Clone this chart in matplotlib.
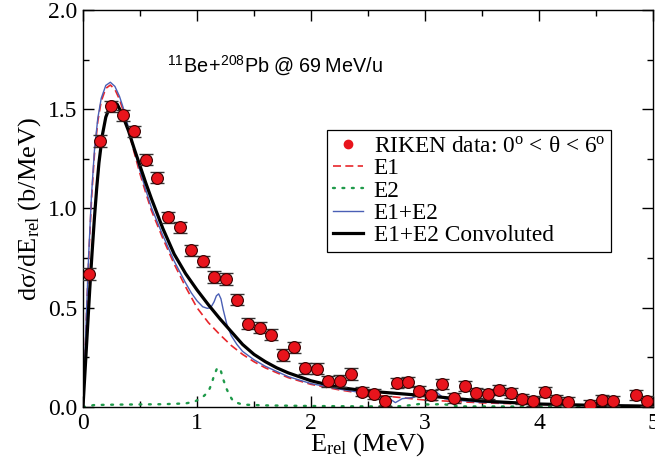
import matplotlib
matplotlib.use("Agg")
import matplotlib.pyplot as plt
from matplotlib.ticker import MultipleLocator

plt.rcParams["font.family"] = "Liberation Serif"
plt.rcParams["mathtext.fontset"] = "custom"
plt.rcParams["mathtext.rm"] = "Liberation Serif"
plt.rcParams["mathtext.it"] = "Liberation Serif:italic"
plt.rcParams["mathtext.sf"] = "Liberation Sans"

# RIKEN data points
data_x = [0.05, 0.15, 0.25, 0.35, 0.45, 0.55, 0.65, 0.75, 0.85, 0.95,
          1.05, 1.15, 1.25, 1.35, 1.45, 1.55, 1.65, 1.75, 1.85, 1.95,
          2.05, 2.15, 2.25, 2.35, 2.45, 2.55, 2.65, 2.75, 2.85, 2.95,
          3.05, 3.15, 3.25, 3.35, 3.45, 3.55, 3.65, 3.75, 3.85, 3.95,
          4.05, 4.15, 4.25, 4.45, 4.55, 4.65, 4.85, 4.95]
data_y = [0.67, 1.34, 1.515, 1.47, 1.39, 1.245, 1.155, 0.955, 0.905, 0.79,
          0.735, 0.655, 0.645, 0.54, 0.42, 0.40, 0.365, 0.262, 0.30, 0.195,
          0.193, 0.13, 0.131, 0.166, 0.078, 0.064, 0.032, 0.119, 0.128, 0.08,
          0.059, 0.116, 0.045, 0.107, 0.069, 0.067, 0.086, 0.072, 0.042, 0.03,
          0.076, 0.034, 0.027, 0.012, 0.035, 0.029, 0.06, 0.03]
data_err = [0.028] * 24 + [0.025] * 24

# E1 (dashed red)
e1_x = [0, 0.01, 0.03, 0.05, 0.075, 0.1, 0.13, 0.16, 0.2, 0.24, 0.28, 0.32,
        0.36, 0.4, 0.45, 0.5, 0.55, 0.6, 0.7, 0.8, 0.9, 1.0, 1.1, 1.2, 1.3,
        1.4, 1.5, 1.6, 1.8, 2.0, 2.25, 2.5, 3.0, 3.5, 4.0, 4.5, 5.0]
e1_y = [0, 0.12, 0.45, 0.75, 1.05, 1.27, 1.44, 1.54, 1.605, 1.622, 1.60, 1.55,
        1.48, 1.39, 1.28, 1.175, 1.08, 0.99, 0.85, 0.72, 0.605, 0.50, 0.425,
        0.365, 0.31, 0.265, 0.228, 0.197, 0.148, 0.114, 0.086, 0.064, 0.035,
        0.021, 0.013, 0.008, 0.005]

# E2 (dotted green)
e2_x = [0, 0.1, 0.3, 0.5, 0.7, 0.9, 0.98, 1.05, 1.1, 1.13, 1.15, 1.18, 1.21,
        1.23, 1.255, 1.285, 1.32, 1.4, 1.6, 2.0, 2.5, 2.8, 2.95, 3.05, 3.15,
        3.3, 4.0, 5.0]
e2_y = [0.0, 0.01, 0.012, 0.013, 0.014, 0.018, 0.027, 0.05, 0.077, 0.12, 0.16,
        0.2, 0.18, 0.14, 0.097, 0.059, 0.027, 0.012, 0.008, 0.005, 0.003,
        0.004, 0.015, 0.012, 0.015, 0.003, 0.002, 0.002]

# E1+E2 (thin blue)
sum_x = [0, 0.01, 0.03, 0.05, 0.075, 0.1, 0.13, 0.16, 0.2, 0.24, 0.28, 0.32,
         0.36, 0.4, 0.45, 0.5, 0.55, 0.6, 0.7, 0.8, 0.9, 0.95, 1.0, 1.05, 1.09,
         1.12, 1.15, 1.17, 1.19, 1.21, 1.23, 1.26, 1.3, 1.35, 1.4, 1.5, 1.6,
         1.8, 2.0, 2.25, 2.5, 2.6, 2.68, 2.74, 2.8, 2.9, 2.98, 3.05, 3.1, 3.17,
         3.25, 3.5, 4.0, 4.5, 5.0]
sum_y = [0, 0.13, 0.47, 0.77, 1.07, 1.29, 1.455, 1.555, 1.62, 1.636, 1.615,
         1.565, 1.495, 1.405, 1.295, 1.19, 1.095, 1.005, 0.865, 0.735, 0.625,
         0.575, 0.535, 0.505, 0.497, 0.50, 0.53, 0.56, 0.57, 0.545, 0.49, 0.42,
         0.36, 0.315, 0.28, 0.238, 0.205, 0.153, 0.118, 0.09, 0.067, 0.052,
         0.045, 0.022, 0.042, 0.048, 0.07, 0.085, 0.075, 0.042, 0.035, 0.024,
         0.015, 0.009, 0.006]

# E1+E2 convoluted (thick black)
conv_x = [0, 0.02, 0.04, 0.06, 0.08, 0.1, 0.12, 0.14, 0.17, 0.2, 0.24, 0.27,
          0.3, 0.34, 0.4, 0.45, 0.5, 0.55, 0.6, 0.7, 0.8, 0.9, 1.0, 1.1, 1.2,
          1.3, 1.4, 1.5, 1.6, 1.7, 1.8, 2.0, 2.25, 2.5, 3.0, 3.5, 4.0, 4.5, 5.0]
conv_y = [0.0, 0.2, 0.4, 0.6, 0.78, 0.95, 1.1, 1.23, 1.37, 1.46, 1.52, 1.535,
          1.525, 1.48, 1.39, 1.30, 1.215, 1.13, 1.05, 0.90, 0.77, 0.672, 0.59,
          0.515, 0.445, 0.38, 0.315, 0.265, 0.228, 0.197, 0.172, 0.132, 0.098,
          0.08, 0.057, 0.03, 0.015, 0.008, 0.004]

fig = plt.figure(figsize=(6.55, 4.67), dpi=100)
ax = fig.add_axes([0.1267, 0.1285, 0.8703, 0.8501])

ax.plot(e1_x, e1_y, color="#e8262b", lw=1.2, dashes=(4.8, 2.6),
        label="E1")
ax.plot(e2_x, e2_y, color="#1f9a4a", lw=1.7, dashes=(0.8, 3.2),
        dash_capstyle="round", label="E2")
ax.plot(sum_x, sum_y, color="#4a5fb5", lw=1.0, label="E1+E2")
ax.plot(conv_x, conv_y, color="black", lw=2.3, label="E1+E2 Convoluted")
ax.errorbar(data_x, data_y, yerr=data_err, fmt="none", ecolor="#333333",
            elinewidth=1.0, capsize=5, capthick=1.0, zorder=4)
ax.plot(data_x, data_y, "o", ms=8.5, mfc="#e8141c", mec="#3a0000", mew=0.8,
        zorder=5)

# legend: small dot for the data
h_dot, = ax.plot([], [], "o", ms=6, mfc="#e8141c", mec="#e8141c")
handles, labels = ax.get_legend_handles_labels()
handles = [h_dot] + handles[:4]
labels = [r"RIKEN data: 0$^{\rm o}$ < θ < 6$^{\rm o}$"] + labels[:4]
leg = ax.legend(handles, labels, loc="upper left",
                bbox_to_anchor=(0.428, 0.698), fontsize=16.8, frameon=True,
                fancybox=False, edgecolor="black", framealpha=1,
                handlelength=1.3, handletextpad=0.45, labelspacing=0.04,
                borderpad=0.25, borderaxespad=0)
leg.get_frame().set_linewidth(0.9)

ax.text(0.337, 0.86, r"$\mathsf{^{11}Be\!+\!^{208}Pb\ @\ 69\ MeV/u}$",
        transform=ax.transAxes, ha="center", va="center", fontsize=14.3)

ax.set_xlim(0, 5)
ax.set_ylim(0, 2.0)
ax.xaxis.set_major_locator(MultipleLocator(1))
ax.xaxis.set_minor_locator(MultipleLocator(0.5))
ax.yaxis.set_major_locator(MultipleLocator(0.5))
ax.yaxis.set_minor_locator(MultipleLocator(0.25))
ax.yaxis.set_major_formatter(plt.FuncFormatter(lambda v, p: f"{v:.1f}"))
ax.tick_params(which="both", direction="in", top=True, right=True,
               labelsize=17, width=1.0)
ax.tick_params(which="major", length=8, pad=4)
ax.tick_params(which="minor", length=4.3)
for s in ax.spines.values():
    s.set_linewidth(1.0)

ax.set_xlabel(r"E$_{\rm rel}$ (MeV)", fontsize=19, labelpad=-2)
ax.set_ylabel(r"dσ/dE$_{\rm rel}$ (b/MeV)", fontsize=19, labelpad=4)

fig.savefig("out.png", dpi=100)
